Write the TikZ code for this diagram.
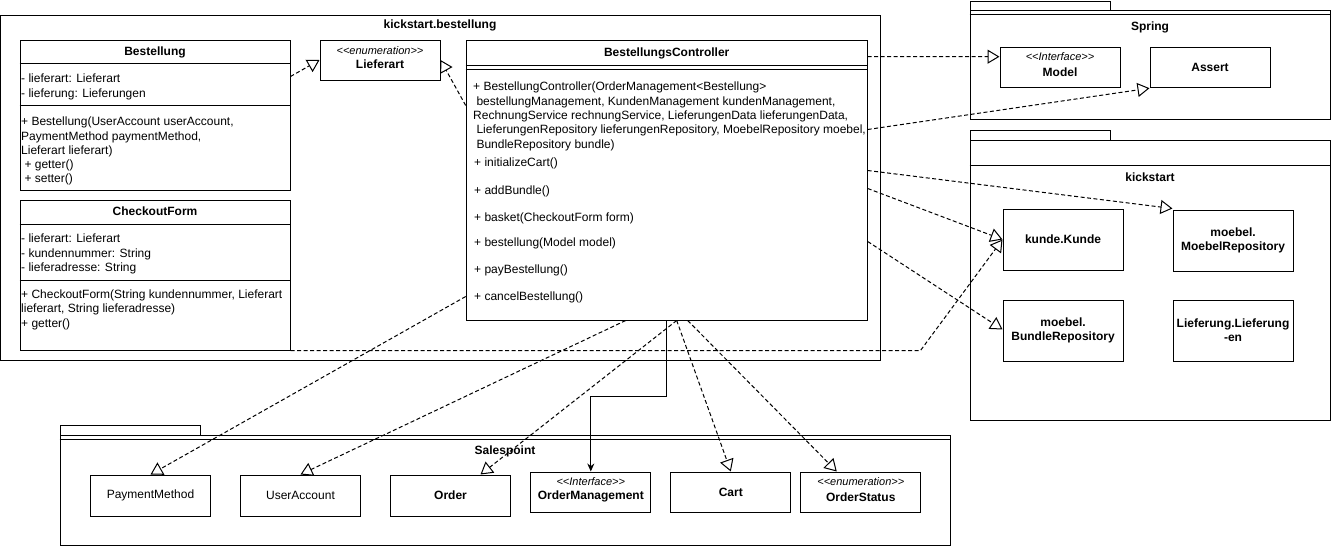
\documentclass[tikz,border=0pt]{standalone}
\usepackage{fontspec}
\setmainfont{Liberation Sans}
\usetikzlibrary{arrows.meta,positioning,calc}

\newcommand{\umlst}[1]{<\kern0pt<#1>\kern0pt>}

\tikzset{
    umlbox/.style={draw, line width=1pt, inner sep=0pt, align=center,
        minimum width=120pt, minimum height=40pt, font=\fontsize{12}{14.3}\selectfont},
    bfbox/.style={umlbox, font=\fontsize{12}{14.3}\selectfont\bfseries},
    pkgbox/.style={draw, line width=1pt, inner sep=0pt},
    pkglabel/.style={inner sep=0pt, font=\fontsize{12}{14.3}\selectfont\bfseries},
    txt/.style={inner sep=0pt, anchor=west, align=left, yshift=-1.5pt,
        font=\fontsize{12}{14.3}\selectfont},
    stereo/.style={inner sep=0pt, font=\fontsize{11}{12}\selectfont\itshape},
    realize/.style={line width=1pt, dash pattern=on 4pt off 2.5pt,
        -{Triangle[open, length=12pt, width=14pt]}},
    uses/.style={line width=1pt, -{Stealth[length=8pt, width=7pt]}},
}

\begin{document}
\begin{tikzpicture}[x=1pt, y=-1pt]
    \useasboundingbox (0,0) rectangle (1331,546);

    % package kickstart.bestellung
    \node[pkgbox, minimum width=880pt, minimum height=345pt] (bestpkg) at (440.5,187.5) {};
    \node[pkglabel] (bestlbl) at (440,25) {kickstart.bestellung};

    % package Spring
    \node[pkgbox, minimum width=140pt, minimum height=9pt] (springtab) at (1040,5.5) {};
    \node[pkgbox, minimum width=360pt, minimum height=109pt] (springpkg) at (1150,64.5) {};
    \draw[line width=1pt] ($(springpkg.north west)+(0,5)$) -- ($(springpkg.north east)+(0,5)$);
    \node[pkglabel] (springlbl) at (1150,27) {Spring};

    % package kickstart
    \node[pkgbox, minimum width=140pt, minimum height=10pt] (kicktab) at (1040,135) {};
    \node[pkgbox, minimum width=360pt, minimum height=280pt] (kickpkg) at (1150,280) {};
    \draw[line width=1pt] ($(kickpkg.north west)+(0,26)$) -- ($(kickpkg.north east)+(0,26)$);
    \node[pkglabel] (kicklbl) at (1150,177) {kickstart};

    % package Salespoint
    \node[pkgbox, minimum width=140pt, minimum height=10pt] (salestab) at (130,430) {};
    \node[pkgbox, minimum width=890pt, minimum height=110pt] (salespkg) at (505,490) {};
    \draw[line width=1pt] ($(salespkg.north west)+(0,5)$) -- ($(salespkg.north east)+(0,5)$);
    \node[pkglabel] (saleslbl) at (505,451.5) {Salespoint};

    % class Bestellung
    \node[umlbox, minimum width=270pt, minimum height=150pt] (bestellung) at (155,115) {};
    \draw[line width=1pt] ($(bestellung.north west)+(0,24)$) -- ($(bestellung.north east)+(0,24)$);
    \draw[line width=1pt] ($(bestellung.north west)+(0,66)$) -- ($(bestellung.north east)+(0,66)$);
    \node[pkglabel] (bestnm) at (155,52) {Bestellung};
    \node[txt] (bestattr) at (21,85.5) {- lieferart: Lieferart\\- lieferung: Lieferungen};
    \node[txt] (bestops) at (21,149.7) {+ Bestellung(UserAccount userAccount,\\PaymentMethod paymentMethod,\\Lieferart lieferart)\\\ + getter()\\\ + setter()};

    % class CheckoutForm
    \node[umlbox, minimum width=270pt, minimum height=150pt] (checkout) at (155,275) {};
    \draw[line width=1pt] ($(checkout.north west)+(0,24.5)$) -- ($(checkout.north east)+(0,24.5)$);
    \draw[line width=1pt] ($(checkout.north west)+(0,81)$) -- ($(checkout.north east)+(0,81)$);
    \node[pkglabel] (checknm) at (155,211) {CheckoutForm};
    \node[txt] (checkattr) at (21,252.6) {- lieferart: Lieferart\\- kundennummer: String\\- lieferadresse: String};
    \node[txt] (checkops) at (21,308.3) {+ CheckoutForm(String kundennummer, Lieferart\\lieferart, String lieferadresse)\\+ getter()};

    % enum Lieferart
    \node[umlbox] (lieferart) at (380,60) {};
    \node[stereo] (liefst) at ($(lieferart.north)+(0,11.5)$) {\umlst{enumeration}};
    \node[pkglabel] (liefnm) at ($(lieferart.north)+(0,24.5)$) {Lieferart};

    % class BestellungsController
    \node[umlbox, minimum width=401pt, minimum height=280pt] (ctrl) at (666.7,180) {};
    \draw[line width=1pt] ($(ctrl.north west)+(0,26)$) -- ($(ctrl.north east)+(0,26)$);
    \draw[line width=1pt] ($(ctrl.north west)+(0,29.5)$) -- ($(ctrl.north east)+(0,29.5)$);
    \node[pkglabel] (ctrlnm) at (666.7,53.3) {BestellungsController};
    \node[txt] (ctrlnew) at (473,114.8) {+ BestellungController(OrderManagement<Bestellung>\\
        \ bestellungManagement, KundenManagement kundenManagement,\\
        RechnungService rechnungService, LieferungenData lieferungenData,\\
        \ LieferungenRepository lieferungenRepository, MoebelRepository moebel,\\
        \ BundleRepository bundle)};
    \node[txt] (ctrlinit) at (474,162.3) {+ initializeCart()};
    \node[txt] (ctrladd) at (474,190) {+ addBundle()};
    \node[txt] (ctrlbasket) at (474,216.7) {+ basket(CheckoutForm form)};
    \node[txt] (ctrlbest) at (474,242.3) {+ bestellung(Model model)};
    \node[txt] (ctrlpay) at (474,269) {+ payBestellung()};
    \node[txt] (ctrlcancel) at (474,295.7) {+ cancelBestellung()};

    % Spring classes
    \node[umlbox] (model) at (1060,67.7) {};
    \node[stereo] (modelst) at ($(model.north)+(0,9.6)$) {\umlst{Interface}};
    \node[pkglabel] (modelnm) at ($(model.north)+(0,24.6)$) {Model};
    \node[bfbox] (assert) at (1210,67.7) {Assert};

    % kickstart classes
    \node[bfbox, minimum height=61pt] (kunde) at (1063,239.5) {kunde.Kunde};
    \node[bfbox, minimum height=61pt] (moebel) at (1233,240.5) {moebel.\\MoebelRepository};
    \node[bfbox, minimum height=61pt] (bundle) at (1063,330.5) {moebel.\\BundleRepository};
    \node[bfbox, minimum height=61pt] (lieferung) at (1233,330.5) {Lieferung.Lieferung\\-en};

    % Salespoint classes
    \node[umlbox, minimum height=41pt] (payment) at (150.5,495.5) {PaymentMethod};
    \node[umlbox, minimum height=41pt] (useracc) at (300.5,495.5) {UserAccount};
    \node[bfbox, minimum height=41pt] (order) at (450.5,495.5) {Order};
    \node[umlbox] (ordermgmt) at (590.8,492) {};
    \node[stereo] (omst) at ($(ordermgmt.north)+(0,9.7)$) {\umlst{Interface}};
    \node[pkglabel] (omnm) at ($(ordermgmt.north)+(0,25.3)$) {OrderManagement};
    \node[bfbox] (cart) at (730.8,492) {Cart};
    \node[umlbox] (orderstatus) at (860.8,492) {};
    \node[stereo] (osst) at ($(orderstatus.north)+(0,9.7)$) {\umlst{enumeration}};
    \node[pkglabel] (osnm) at ($(orderstatus.north)+(0,25.3)$) {OrderStatus};

    % dependencies
    \draw[realize] ($(bestellung.north east)+(0,37)$) -- (lieferart.west);
    \draw[realize] ($(ctrl.north west)+(0,66)$) -- (lieferart.east);
    \draw[realize] ($(ctrl.north east)+(0,17)$) -- ($(model.north west)+(0,9.5)$);
    \draw[realize] ($(ctrl.north east)+(0,90)$) -- (assert.south west);
    \draw[realize] ($(ctrl.north east)+(0,131)$) -- ($(moebel.north west)+(0,-1)$);
    \draw[realize] ($(ctrl.north east)+(0,149)$) -- (kunde.west);
    \draw[realize] ($(ctrl.north east)+(0,202)$) -- ($(bundle.west)+(0,-1)$);
    \draw[realize] (checkout.south east) -- ++(630,0) -- (kunde.west);
    \draw[realize] ($(ctrl.south west)+(0,-24)$) -- (payment.north);
    \draw[realize] ($(ctrl.south)+(-41,0)$) -- (useracc.north);
    \draw[realize] ($(ctrl.south)+(10,0)$) -- ($(order.north)+(30,0)$);
    \draw[uses] (ctrl.south) -- ++(0,76) -| (ordermgmt.north);
    \draw[realize] ($(ctrl.south)+(10,0)$) -- (cart.north);
    \draw[realize] ($(ctrl.south)+(21,0)$) -- ($(orderstatus.north)+(-24,0)$);
\end{tikzpicture}
\end{document}
